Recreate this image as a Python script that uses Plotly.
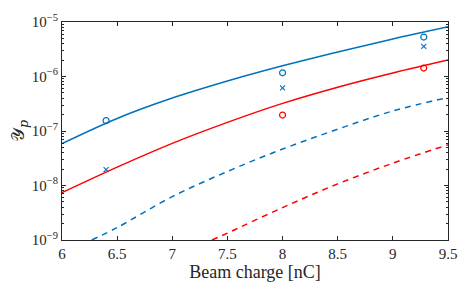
import plotly.graph_objects as go

# Curves
x_curve = [6.0, 6.5, 7.0, 7.5, 8.0, 8.5, 9.0, 9.5]
blue_solid = [5.87e-8, 1.70e-7, 4.02e-7, 8.26e-7, 1.57e-6, 2.82e-6, 4.89e-6, 8.18e-6]
red_solid = [7.38e-9, 2.17e-8, 5.93e-8, 1.44e-7, 3.21e-7, 6.36e-7, 1.16e-6, 2.00e-6]

x_blue_dash = [6.27, 6.5, 7.0, 7.5, 8.0, 8.5, 9.0, 9.5]
blue_dash = [1.0e-9, 1.69e-9, 6.24e-9, 1.81e-8, 4.66e-8, 1.08e-7, 2.33e-7, 4.12e-7]

x_red_dash = [7.36, 7.5, 8.0, 8.5, 9.0, 9.5]
red_dash = [1.0e-9, 1.34e-9, 3.93e-9, 1.07e-8, 2.57e-8, 5.58e-8]

# Measured points
x_meas = [6.4, 8.0, 9.28]
blue_o = [1.55e-7, 1.17e-6, 5.3e-6]
blue_x = [1.96e-8, 6.2e-7, 3.56e-6]
x_red_meas = [8.0, 9.28]
red_o = [1.96e-7, 1.43e-6]

x_ticks = [6, 6.5, 7, 7.5, 8, 8.5, 9, 9.5]
x_ticktext = ["6", "6.5", "7", "7.5", "8", "8.5", "9", "9.5"]
y_ticks = [1e-9, 1e-8, 1e-7, 1e-6, 1e-5]
y_ticktext = ["10<sup>−9</sup>", "10<sup>−8</sup>", "10<sup>−7</sup>", "10<sup>−6</sup>", "10<sup>−5</sup>"]

BLUE = "#0072BD"
RED = "#FF0000"
SERIF = "Liberation Serif"

fig = go.Figure()
fig.add_trace(go.Scatter(x=x_curve, y=blue_solid, mode="lines", line=dict(color=BLUE, width=1.5, shape="spline", smoothing=1.0)))
fig.add_trace(go.Scatter(x=x_curve, y=red_solid, mode="lines", line=dict(color=RED, width=1.5, shape="spline", smoothing=1.0)))
fig.add_trace(go.Scatter(x=x_blue_dash, y=blue_dash, mode="lines", line=dict(color=BLUE, width=1.5, dash="6px,5px", shape="spline")))
fig.add_trace(go.Scatter(x=x_red_dash, y=red_dash, mode="lines", line=dict(color=RED, width=1.5, dash="6px,5px", shape="spline")))
fig.add_trace(go.Scatter(x=x_meas, y=blue_o, mode="markers",
                         marker=dict(symbol="circle-open", size=6, color=BLUE, line=dict(width=1.2))))
fig.add_trace(go.Scatter(x=x_meas, y=blue_x, mode="markers",
                         marker=dict(symbol="x-thin-open", size=5, color=BLUE, line=dict(width=1.1, color=BLUE))))
fig.add_trace(go.Scatter(x=x_red_meas, y=red_o, mode="markers",
                         marker=dict(symbol="circle-open", size=6, color=RED, line=dict(width=1.2))))

axis_common = dict(showgrid=False, zeroline=False, showline=True, linecolor="#262626", linewidth=1,
                   mirror="ticks", ticks="inside", ticklen=4, tickcolor="#262626",
                   tickfont=dict(family=SERIF, size=15, color="#262626"))

fig.update_xaxes(range=[6, 9.5], tickvals=x_ticks, ticktext=x_ticktext,
                 title=dict(text="Beam charge [nC]", font=dict(family=SERIF, size=18, color="#262626"), standoff=2),
                 **axis_common)
fig.update_yaxes(type="log", range=[-9, -5], tickvals=y_ticks, ticktext=y_ticktext,
                 minor=dict(ticks="inside", ticklen=2, tickcolor="#262626", dtick="D1"),
                 title=dict(text="𝒴<sub><i>p</i></sub>", font=dict(family="DejaVu Serif", size=18, color="#262626"), standoff=2),
                 **axis_common)

fig.update_layout(width=469, height=289, showlegend=False,
                  paper_bgcolor="white", plot_bgcolor="white",
                  margin=dict(l=62, r=16, t=14, b=46))

fig.write_html("out.html", config={"displayModeBar": False})

# remove default page margin so the figure sits at the window's origin
with open("out.html", "r", encoding="utf-8") as f:
    html = f.read()
html = html.replace("<head>", "<head><style>html,body{margin:0;padding:0;overflow:hidden;}</style>", 1)
with open("out.html", "w", encoding="utf-8") as f:
    f.write(html)
